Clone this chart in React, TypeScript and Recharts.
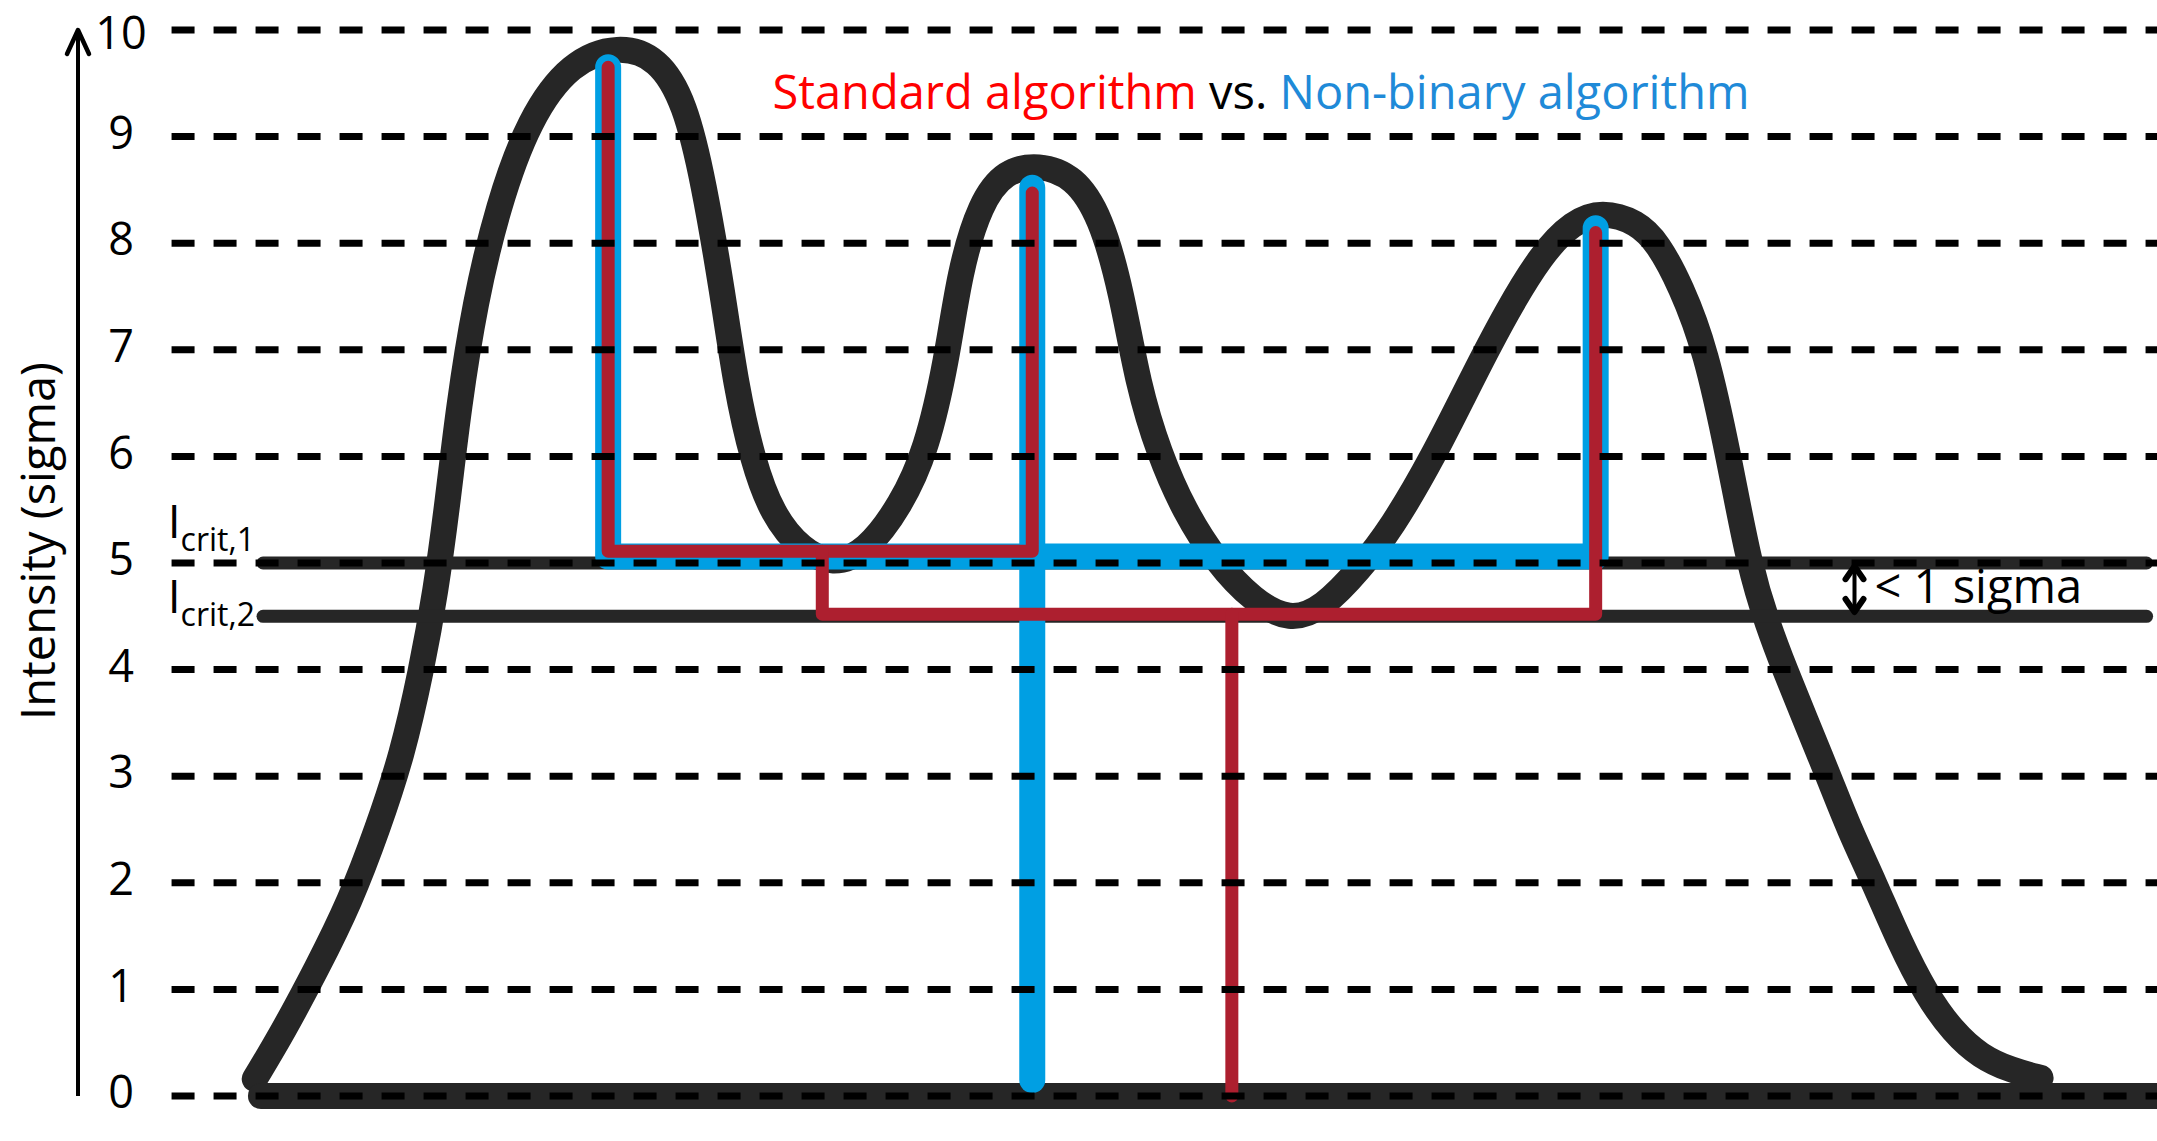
import React from 'react'
import { ComposedChart, Legend, Line, XAxis, YAxis } from 'recharts'

const W = 2157
const H = 1141
const FONT = "'Open Sans', 'DejaVu Sans', sans-serif"

// x = position across the profile (0 = intensity axis, 100 = right edge), y = intensity in sigma
const profileX = [
  8.5, 9.8, 11.5, 13.1, 14.4, 15.6, 16.5, 17.2, 17.8, 18.3, 19.1, 20.2, 21.7, 23.7, 26.0, 27.9, 29.2,
  30.1, 31.0, 31.65, 32.45, 33.4, 34.8, 36.3, 37.9, 39.6, 40.8, 41.8, 42.4, 43.4, 44.6, 46.2, 47.9,
  49.2, 50.2, 51.0, 52.0, 53.2, 54.8, 56.5, 58.3, 59.9, 61.6, 63.2, 65.2, 67.1, 68.7, 70.4, 71.9,
  73.3, 75.0, 76.0, 77.1, 78.3, 79.4, 80.4, 81.3, 82.1, 83.1, 84.2, 85.2, 86.4, 87.6, 88.9, 90.2,
  91.5, 93.0, 94.4,
]
const profileY = [
  0.16, 0.58, 1.2, 1.83, 2.5, 3.2, 3.98, 4.72, 5.6, 6.45, 7.45, 8.35, 9.17, 9.7, 9.86, 9.74, 9.32,
  8.57, 7.54, 6.66, 5.96, 5.45, 5.12, 4.98, 5.1, 5.55, 6.05, 6.91, 7.73, 8.38, 8.68, 8.74, 8.63,
  8.25, 7.54, 6.66, 6.03, 5.49, 5.0, 4.65, 4.45, 4.58, 4.93, 5.33, 6.0, 6.75, 7.35, 7.9, 8.2,
  8.3, 8.2, 8.0, 7.6, 7.0, 6.0, 4.96, 4.41, 4.0, 3.52, 3.0, 2.5, 2.0, 1.45, 0.95, 0.6,
  0.37, 0.24, 0.17,
]

const intensityTicks = [0, 1, 2, 3, 4, 5, 6, 7, 8, 9, 10]
const gridFrom = 4.5
const gridTo = 100

const baselineX = [8.8, 100]
const icritX = [8.9, 99.5]
const icrit1 = 5
const icrit2 = 4.5

// standard algorithm (red)
const standardX = [
  [25.5, 25.5, 45.9, 45.9],
  [35.8, 35.8, 73.0, 73.0],
  [55.5, 55.5],
]
const standardY = [
  [9.65, 5.11, 5.11, 8.47],
  [5.11, 4.52, 4.52, 8.1],
  [4.52, 0],
]

// non-binary algorithm (blue)
const nonBinaryX = [
  [25.5, 25.5, 73.0, 73.0],
  [45.9, 45.9],
]
const nonBinaryY = [
  [9.65, 5.06, 5.06, 8.14],
  [8.52, 0.15],
]

const gapX = 85.45
const gapY = [4.54, 4.97]

const pts = (xs: number[], ys: number[]) => xs.map((x, i) => ({ x, y: ys[i] }))

const labelPos = (p: any) => {
  const vb = p.viewBox || {}
  return { x: vb.x ?? p.x, y: vb.y ?? p.y }
}

const icritLabel = (sub: string, dMain: number, dSub: number) => (p: any) => {
  if (p.index !== 0) return null
  const { x, y } = labelPos(p)
  return (
    <text x={x - 8} y={y + dMain} textAnchor="end" fontFamily={FONT} fontSize={46} fill="#000">
      I
      <tspan fontSize={32} dy={dSub - dMain}>
        {'crit,' + sub}
      </tspan>
    </text>
  )
}

const gapLabel = (p: any) => {
  if (p.index !== 0) return null
  const { x, y } = labelPos(p)
  return (
    <text x={x + 20} y={y - 9} fontFamily={FONT} fontSize={47} fill="#000">
      {'< 1 sigma'}
    </text>
  )
}

const renderTick = (p: any) => (
  <text
    x={p.x + 51}
    y={p.y + (p.payload.value === 10 ? 3 : -4)}
    dy="0.36em"
    textAnchor="middle"
    fontFamily={FONT}
    fontSize={45}
    fill="#000"
  >
    {p.payload.value}
  </text>
)

const renderYTitle = (p: any) => {
  const vb = p.viewBox
  const cx = vb.x + 55
  const cy = vb.y + vb.height / 2 - 22
  return (
    <text x={cx} y={cy} transform={`rotate(-90 ${cx} ${cy})`} textAnchor="middle" fontFamily={FONT} fontSize={47} fill="#000">
      Intensity (sigma)
    </text>
  )
}

const renderTitle = () => (
  <div style={{ fontFamily: FONT, fontSize: 47, lineHeight: 1, whiteSpace: 'nowrap' }}>
    <span style={{ color: '#FF0000' }}>Standard algorithm</span>
    <span style={{ color: '#000' }}> vs. </span>
    <span style={{ color: '#1F8AD8' }}>Non-binary algorithm</span>
  </div>
)

const common = {
  dataKey: 'y',
  dot: false,
  activeDot: false,
  isAnimationActive: false,
  legendType: 'none' as const,
  strokeLinecap: 'round' as const,
  strokeLinejoin: 'round' as const,
}

export default function App() {
  return (
    <div style={{ position: 'absolute', left: 0, top: 0, width: W, height: H, background: '#fff' }}>
      <svg width={0} height={0} style={{ position: 'absolute' }}>
        <defs>
          <marker id="axisArrow" markerUnits="userSpaceOnUse" markerWidth={40} markerHeight={40} refX={0} refY={0} orient="auto-start-reverse" overflow="visible">
            <path d="M-24,-11 L0,0 L-24,11" fill="none" stroke="#000" strokeWidth={4.5} strokeLinecap="round" strokeLinejoin="round" />
          </marker>
          <marker id="gapArrow" markerUnits="userSpaceOnUse" markerWidth={30} markerHeight={30} refX={0} refY={0} orient="auto-start-reverse" overflow="visible">
            <path d="M-13,-9 L0,0 L-13,9" fill="none" stroke="#000" strokeWidth={6} strokeLinecap="round" strokeLinejoin="round" />
          </marker>
        </defs>
      </svg>
      <ComposedChart width={W} height={H} margin={{ top: 30, right: 0, bottom: 45, left: 0 }}>
        <XAxis type="number" dataKey="x" domain={[0, 100]} hide />
        <YAxis
          type="number"
          domain={[0, 10]}
          ticks={intensityTicks}
          interval={0}
          width={78}
          axisLine={{ stroke: '#000', strokeWidth: 4, markerStart: 'url(#axisArrow)' }}
          tickLine={false}
          tick={renderTick}
          label={{ content: renderYTitle }}
        />
        <Legend
          verticalAlign="middle"
          align="center"
          layout="horizontal"
          content={renderTitle}
          wrapperStyle={{ top: 68, left: 1261, transform: 'translateX(-50%)', width: 'auto', height: 'auto' }}
        />

        <Line {...common} data={pts(profileX, profileY)} type="basis" stroke="#262626" strokeWidth={26} />
        <Line {...common} data={pts(baselineX, [0, 0])} type="linear" stroke="#262626" strokeWidth={26} />
        <Line
          {...common}
          data={pts(icritX, [icrit1, icrit1])}
          type="linear"
          stroke="#262626"
          strokeWidth={13}
          label={icritLabel('1', -25, -12)}
        />
        <Line
          {...common}
          data={pts(icritX, [icrit2, icrit2])}
          type="linear"
          stroke="#262626"
          strokeWidth={13}
          label={icritLabel('2', -3, 10)}
        />

        {nonBinaryX.map((xs, i) => (
          <Line key={'nb' + i} {...common} data={pts(xs, nonBinaryY[i])} type="linear" stroke="#009FE3" strokeWidth={26} />
        ))}
        {standardX.map((xs, i) => (
          <Line key={'st' + i} {...common} data={pts(xs, standardY[i])} type="linear" stroke="#AD1F2F" strokeWidth={13} />
        ))}

        {intensityTicks.map((t) => (
          <Line
            key={'grid' + t}
            {...common}
            strokeLinecap="butt"
            data={pts([gridFrom, gridTo], [t, t])}
            type="linear"
            stroke="#000"
            strokeWidth={7}
            strokeDasharray="23 19"
          />
        ))}

        <Line
          {...common}
          data={pts([gapX, gapX], gapY)}
          type="linear"
          stroke="#000"
          strokeWidth={4}
          markerStart="url(#gapArrow)"
          markerEnd="url(#gapArrow)"
          label={gapLabel}
        />
      </ComposedChart>
    </div>
  )
}
